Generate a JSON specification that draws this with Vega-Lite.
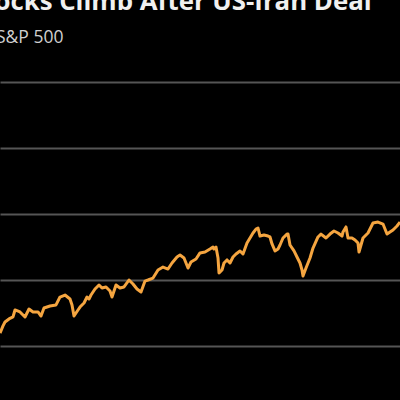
{
  "$schema": "https://vega.github.io/schema/vega-lite/v6.json",
  "autosize": "none",
  "width": 400,
  "height": 264,
  "padding": {"top": 82, "left": 0, "right": 0, "bottom": 54},
  "background": "#000000",
  "config": {"view": {"stroke": null}},
  "title": {
    "text": "Stocks Climb After US-Iran Deal",
    "subtitle": "S&P 500",
    "anchor": "start",
    "frame": "group",
    "dx": -31,
    "offset": 34,
    "font": "Open Sans",
    "fontSize": 25.8,
    "fontWeight": "bold",
    "color": "#f0f0f0",
    "subtitleFont": "Open Sans",
    "subtitleFontSize": 17.5,
    "subtitleColor": "#d0d0d0",
    "subtitlePadding": 14,
    "encode": {"subtitle": {"enter": {"dx": {"value": -4}}, "update": {"dx": {"value": -4}}}}
  },
  "data": {"values": [
    {"day": 0, "close": 5098}, {"day": 3, "close": 5152}, {"day": 5, "close": 5182}, {"day": 9, "close": 5205},
    {"day": 13, "close": 5220}, {"day": 15, "close": 5273}, {"day": 20, "close": 5258}, {"day": 25, "close": 5220},
    {"day": 29, "close": 5280}, {"day": 33, "close": 5258}, {"day": 38, "close": 5258}, {"day": 41, "close": 5227},
    {"day": 44, "close": 5288}, {"day": 50, "close": 5303}, {"day": 56, "close": 5311}, {"day": 60, "close": 5371},
    {"day": 65, "close": 5386}, {"day": 70, "close": 5356}, {"day": 72, "close": 5311}, {"day": 74, "close": 5227},
    {"day": 78, "close": 5273}, {"day": 80, "close": 5295}, {"day": 82, "close": 5311}, {"day": 84, "close": 5326},
    {"day": 87, "close": 5371}, {"day": 89, "close": 5356}, {"day": 91, "close": 5386}, {"day": 95, "close": 5432},
    {"day": 99, "close": 5462}, {"day": 102, "close": 5439}, {"day": 106, "close": 5447}, {"day": 110, "close": 5417},
    {"day": 112, "close": 5371}, {"day": 116, "close": 5462}, {"day": 120, "close": 5439}, {"day": 124, "close": 5447},
    {"day": 129, "close": 5500}, {"day": 133, "close": 5470}, {"day": 137, "close": 5432}, {"day": 141, "close": 5409},
    {"day": 145, "close": 5492}, {"day": 148, "close": 5500}, {"day": 153, "close": 5515}, {"day": 158, "close": 5576},
    {"day": 163, "close": 5598}, {"day": 168, "close": 5583}, {"day": 172, "close": 5629}, {"day": 177, "close": 5674},
    {"day": 180, "close": 5689}, {"day": 184, "close": 5667}, {"day": 188, "close": 5591}, {"day": 191, "close": 5636},
    {"day": 196, "close": 5659}, {"day": 200, "close": 5705}, {"day": 205, "close": 5712}, {"day": 210, "close": 5735},
    {"day": 213, "close": 5750}, {"day": 214, "close": 5735}, {"day": 216, "close": 5750}, {"day": 218, "close": 5667},
    {"day": 219, "close": 5553}, {"day": 222, "close": 5576}, {"day": 224, "close": 5629}, {"day": 227, "close": 5652},
    {"day": 230, "close": 5629}, {"day": 233, "close": 5674}, {"day": 236, "close": 5697}, {"day": 240, "close": 5720},
    {"day": 243, "close": 5697}, {"day": 247, "close": 5780}, {"day": 250, "close": 5818}, {"day": 253, "close": 5856},
    {"day": 256, "close": 5886}, {"day": 258, "close": 5894}, {"day": 260, "close": 5833}, {"day": 264, "close": 5841},
    {"day": 268, "close": 5833}, {"day": 270, "close": 5826}, {"day": 272, "close": 5773}, {"day": 275, "close": 5720},
    {"day": 278, "close": 5735}, {"day": 280, "close": 5765}, {"day": 283, "close": 5818}, {"day": 287, "close": 5848},
    {"day": 288, "close": 5848}, {"day": 290, "close": 5765}, {"day": 294, "close": 5720}, {"day": 297, "close": 5674},
    {"day": 300, "close": 5629}, {"day": 302, "close": 5576}, {"day": 303, "close": 5530}, {"day": 306, "close": 5591},
    {"day": 310, "close": 5667}, {"day": 313, "close": 5742}, {"day": 318, "close": 5826}, {"day": 321, "close": 5848},
    {"day": 326, "close": 5818}, {"day": 330, "close": 5848}, {"day": 334, "close": 5871}, {"day": 338, "close": 5856},
    {"day": 342, "close": 5833}, {"day": 343, "close": 5864}, {"day": 346, "close": 5902}, {"day": 348, "close": 5818},
    {"day": 352, "close": 5818}, {"day": 355, "close": 5803}, {"day": 358, "close": 5780}, {"day": 359, "close": 5712},
    {"day": 363, "close": 5818}, {"day": 368, "close": 5856}, {"day": 373, "close": 5932}, {"day": 378, "close": 5939},
    {"day": 383, "close": 5924}, {"day": 387, "close": 5848}, {"day": 393, "close": 5879}, {"day": 397, "close": 5909},
    {"day": 400, "close": 5939}
  ]},
  "mark": {"type": "line", "color": "#f5a540", "strokeWidth": 3, "strokeJoin": "round", "clip": true},
  "encoding": {
    "x": {"field": "day", "type": "quantitative", "scale": {"domain": [0, 400], "nice": false, "zero": false}, "axis": null},
    "y": {
      "field": "close", "type": "quantitative",
      "scale": {"domain": [5000, 7000], "nice": false, "zero": false},
      "axis": {"values": [5000, 5500, 6000, 6500, 7000], "labels": false, "ticks": false, "domain": false, "title": null,
               "gridColor": "#555555", "gridWidth": 2, "gridOpacity": 1}
    }
  }
}
